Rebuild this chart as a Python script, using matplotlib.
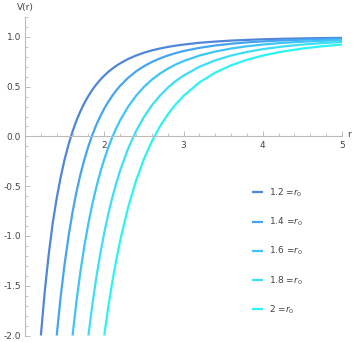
import numpy as np
import matplotlib
matplotlib.use("Agg")
import matplotlib.pyplot as plt
from matplotlib.ticker import MultipleLocator, FixedLocator

# r grid shared by all curves (None where r < r0)
r = [1.2, 1.25, 1.3, 1.35, 1.4, 1.45, 1.5, 1.55, 1.6, 1.65, 1.7, 1.75, 1.8, 1.85,
     1.9, 1.95, 2.0, 2.05, 2.1, 2.15, 2.2, 2.3, 2.4, 2.5, 2.6, 2.7, 2.8, 2.9, 3.0,
     3.2, 3.4, 3.6, 3.8, 4.0, 4.25, 4.5, 4.75, 5.0]

v_12 = [-2.00, -1.55, -1.18, -0.87, -0.62, -0.41, -0.23, -0.08, 0.05, 0.16, 0.255, 0.337,
        0.407, 0.469, 0.523, 0.570, 0.611, 0.648, 0.680, 0.709, 0.734, 0.778, 0.8125,
        0.841, 0.864, 0.883, 0.899, 0.912, 0.923, 0.941, 0.953, 0.963, 0.970, 0.976,
        0.981, 0.985, 0.988, 0.990]
v_14 = [None] * 4 + [-2.00, -1.61, -1.28, -1.00, -0.76, -0.555, -0.38, -0.229, -0.098,
        0.016, 0.116, 0.203, 0.280, 0.347, 0.407, 0.461, 0.508, 0.588, 0.653, 0.705,
        0.748, 0.783, 0.8125, 0.837, 0.858, 0.890, 0.914, 0.931, 0.945, 0.955, 0.965,
        0.972, 0.977, 0.982]
v_16 = [None] * 8 + [-2.00, -1.653, -1.354, -1.096, -0.873, -0.678, -0.509, -0.360,
        -0.229, -0.113, -0.011, 0.080, 0.161, 0.297, 0.407, 0.497, 0.570, 0.630, 0.680,
        0.722, 0.757, 0.8125, 0.853, 0.883, 0.906, 0.923, 0.940, 0.952, 0.961, 0.969]
v_18 = [None] * 12 + [-2.00, -1.689, -1.417, -1.178, -0.968, -0.783, -0.619, -0.474,
        -0.344, -0.125, 0.051, 0.194, 0.311, 0.407, 0.488, 0.555, 0.611, 0.700, 0.764,
        0.8125, 0.849, 0.877, 0.903, 0.923, 0.938, 0.950]
v_20 = [None] * 16 + [-2.00, -1.718, -1.468, -1.246, -1.049, -0.715, -0.447, -0.229,
        -0.050, 0.097, 0.219, 0.321, 0.407, 0.542, 0.641, 0.714, 0.770, 0.8125, 0.853,
        0.883, 0.906, 0.923]

labels = ["1.2", "1.4", "1.6", "1.8", "2"]
colors = ["#4f86d9", "#45a5f2", "#3fc4f7", "#3cdff6", "#2cf3f4"]

plt.rcParams["mathtext.fontset"] = "dejavusans"
plt.rcParams["axes.unicode_minus"] = False

fig = plt.figure(figsize=(3.54, 3.42), dpi=100)
ax = fig.add_axes([25 / 354, 6.5 / 342, 317 / 354, 318.5 / 342])

for vals, lab, c in zip([v_12, v_14, v_16, v_18, v_20], labels, colors):
    ax.plot(r, np.array(vals, dtype=float), color=c, lw=1.6,
            label=lab + r" =$r_0$", solid_capstyle="butt")

ax.set_xlim(1.0, 5.0)
ax.set_ylim(-2.0, 1.2)

ax.spines["top"].set_visible(False)
ax.spines["right"].set_visible(False)
ax.spines["bottom"].set_position(("data", 0))
for s in ["left", "bottom"]:
    ax.spines[s].set_color("#bbbbbb")
    ax.spines[s].set_linewidth(0.8)

ax.xaxis.set_major_locator(FixedLocator([2, 3, 4, 5]))
ax.xaxis.set_minor_locator(MultipleLocator(0.2))
ax.yaxis.set_major_locator(MultipleLocator(0.5))
ax.yaxis.set_minor_locator(MultipleLocator(0.1))
ax.yaxis.set_major_formatter(lambda v, p: f"{v:.1f}")
ax.tick_params(which="both", direction="in", color="#bbbbbb", labelsize=6.5,
               labelcolor="#444444")
ax.tick_params(which="major", length=3.5, width=0.7, pad=3)
ax.tick_params(which="minor", length=2, width=0.6)

ax.text(1.0, 1.30, "V(r)", ha="center", va="center", fontsize=6.5, color="#444444",
        clip_on=False)
ax.text(5.07, 0.02, "r", ha="left", va="center", fontsize=6.5, color="#444444",
        clip_on=False)

leg = ax.legend(loc="upper left", bbox_to_anchor=(251.5 / 354, 1 - 186.5 / 342),
                bbox_transform=fig.transFigure, frameon=False, fontsize=6.5,
                handlelength=1.25, handletextpad=0.65, labelspacing=1.85,
                borderpad=0, borderaxespad=0)
for t in leg.get_texts():
    t.set_color("#444444")

fig.savefig("out.png", dpi=100)
